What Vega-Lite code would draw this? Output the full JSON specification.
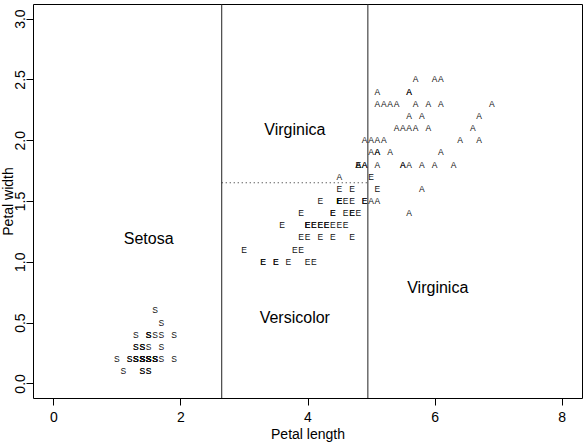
{
  "$schema": "https://vega.github.io/schema/vega-lite/v6.json",
  "width": 549,
  "height": 394,
  "autosize": {"type": "none"},
  "padding": {"left": 33, "top": 4, "right": 4, "bottom": 44},
  "background": "white",
  "config": {
    "view": {"stroke": "black", "strokeWidth": 1},
    "axis": {
      "grid": false,
      "domain": false,
      "tickColor": "black",
      "tickSize": 7,
      "tickWidth": 1,
      "labelFont": "Liberation Sans",
      "labelFontSize": 14,
      "labelColor": "black",
      "titleFont": "Liberation Sans",
      "titleFontSize": 14,
      "titleFontWeight": "normal",
      "titleColor": "black"
    }
  },
  "datasets": {
    "iris": [
      {"l":1.4,"w":0.2,"s":"S"},{"l":1.4,"w":0.2,"s":"S"},{"l":1.3,"w":0.2,"s":"S"},{"l":1.5,"w":0.2,"s":"S"},{"l":1.4,"w":0.2,"s":"S"},
      {"l":1.7,"w":0.4,"s":"S"},{"l":1.4,"w":0.3,"s":"S"},{"l":1.5,"w":0.2,"s":"S"},{"l":1.4,"w":0.2,"s":"S"},{"l":1.5,"w":0.1,"s":"S"},
      {"l":1.5,"w":0.2,"s":"S"},{"l":1.6,"w":0.2,"s":"S"},{"l":1.4,"w":0.1,"s":"S"},{"l":1.1,"w":0.1,"s":"S"},{"l":1.2,"w":0.2,"s":"S"},
      {"l":1.5,"w":0.4,"s":"S"},{"l":1.3,"w":0.4,"s":"S"},{"l":1.4,"w":0.3,"s":"S"},{"l":1.7,"w":0.3,"s":"S"},{"l":1.5,"w":0.3,"s":"S"},
      {"l":1.7,"w":0.2,"s":"S"},{"l":1.5,"w":0.4,"s":"S"},{"l":1.0,"w":0.2,"s":"S"},{"l":1.7,"w":0.5,"s":"S"},{"l":1.9,"w":0.2,"s":"S"},
      {"l":1.6,"w":0.2,"s":"S"},{"l":1.6,"w":0.4,"s":"S"},{"l":1.5,"w":0.2,"s":"S"},{"l":1.4,"w":0.2,"s":"S"},{"l":1.6,"w":0.2,"s":"S"},
      {"l":1.6,"w":0.2,"s":"S"},{"l":1.5,"w":0.4,"s":"S"},{"l":1.5,"w":0.1,"s":"S"},{"l":1.4,"w":0.2,"s":"S"},{"l":1.5,"w":0.2,"s":"S"},
      {"l":1.2,"w":0.2,"s":"S"},{"l":1.3,"w":0.2,"s":"S"},{"l":1.4,"w":0.1,"s":"S"},{"l":1.3,"w":0.2,"s":"S"},{"l":1.5,"w":0.2,"s":"S"},
      {"l":1.3,"w":0.3,"s":"S"},{"l":1.3,"w":0.3,"s":"S"},{"l":1.3,"w":0.2,"s":"S"},{"l":1.6,"w":0.6,"s":"S"},{"l":1.9,"w":0.4,"s":"S"},
      {"l":1.4,"w":0.3,"s":"S"},{"l":1.6,"w":0.2,"s":"S"},{"l":1.4,"w":0.2,"s":"S"},{"l":1.5,"w":0.2,"s":"S"},{"l":1.4,"w":0.2,"s":"S"},
      {"l":4.7,"w":1.4,"s":"E"},{"l":4.5,"w":1.5,"s":"E"},{"l":4.9,"w":1.5,"s":"E"},{"l":4.0,"w":1.3,"s":"E"},{"l":4.6,"w":1.5,"s":"E"},
      {"l":4.5,"w":1.3,"s":"E"},{"l":4.7,"w":1.6,"s":"E"},{"l":3.3,"w":1.0,"s":"E"},{"l":4.6,"w":1.3,"s":"E"},{"l":3.9,"w":1.4,"s":"E"},
      {"l":3.5,"w":1.0,"s":"E"},{"l":4.2,"w":1.5,"s":"E"},{"l":4.0,"w":1.0,"s":"E"},{"l":4.7,"w":1.4,"s":"E"},{"l":3.6,"w":1.3,"s":"E"},
      {"l":4.4,"w":1.4,"s":"E"},{"l":4.5,"w":1.5,"s":"E"},{"l":4.1,"w":1.0,"s":"E"},{"l":4.5,"w":1.5,"s":"E"},{"l":3.9,"w":1.1,"s":"E"},
      {"l":4.8,"w":1.8,"s":"E"},{"l":4.0,"w":1.3,"s":"E"},{"l":4.9,"w":1.5,"s":"E"},{"l":4.7,"w":1.2,"s":"E"},{"l":4.3,"w":1.3,"s":"E"},
      {"l":4.4,"w":1.4,"s":"E"},{"l":4.8,"w":1.4,"s":"E"},{"l":5.0,"w":1.7,"s":"E"},{"l":4.5,"w":1.5,"s":"E"},{"l":3.5,"w":1.0,"s":"E"},
      {"l":3.8,"w":1.1,"s":"E"},{"l":3.7,"w":1.0,"s":"E"},{"l":3.9,"w":1.2,"s":"E"},{"l":5.1,"w":1.6,"s":"E"},{"l":4.5,"w":1.5,"s":"E"},
      {"l":4.5,"w":1.6,"s":"E"},{"l":4.7,"w":1.5,"s":"E"},{"l":4.4,"w":1.3,"s":"E"},{"l":4.1,"w":1.3,"s":"E"},{"l":4.0,"w":1.3,"s":"E"},
      {"l":4.4,"w":1.2,"s":"E"},{"l":4.6,"w":1.4,"s":"E"},{"l":4.0,"w":1.2,"s":"E"},{"l":3.3,"w":1.0,"s":"E"},{"l":4.2,"w":1.3,"s":"E"},
      {"l":4.2,"w":1.2,"s":"E"},{"l":4.2,"w":1.3,"s":"E"},{"l":4.3,"w":1.3,"s":"E"},{"l":3.0,"w":1.1,"s":"E"},{"l":4.1,"w":1.3,"s":"E"},
      {"l":6.0,"w":2.5,"s":"A"},{"l":5.1,"w":1.9,"s":"A"},{"l":5.9,"w":2.1,"s":"A"},{"l":5.6,"w":1.8,"s":"A"},{"l":5.8,"w":2.2,"s":"A"},
      {"l":6.6,"w":2.1,"s":"A"},{"l":4.5,"w":1.7,"s":"A"},{"l":6.3,"w":1.8,"s":"A"},{"l":5.8,"w":1.8,"s":"A"},{"l":6.1,"w":2.5,"s":"A"},
      {"l":5.1,"w":2.0,"s":"A"},{"l":5.3,"w":1.9,"s":"A"},{"l":5.5,"w":2.1,"s":"A"},{"l":5.0,"w":2.0,"s":"A"},{"l":5.1,"w":2.4,"s":"A"},
      {"l":5.3,"w":2.3,"s":"A"},{"l":5.5,"w":1.8,"s":"A"},{"l":6.7,"w":2.2,"s":"A"},{"l":6.9,"w":2.3,"s":"A"},{"l":5.0,"w":1.5,"s":"A"},
      {"l":5.7,"w":2.3,"s":"A"},{"l":4.9,"w":2.0,"s":"A"},{"l":6.7,"w":2.0,"s":"A"},{"l":4.9,"w":1.8,"s":"A"},{"l":5.7,"w":2.1,"s":"A"},
      {"l":6.0,"w":1.8,"s":"A"},{"l":4.8,"w":1.8,"s":"A"},{"l":4.9,"w":1.8,"s":"A"},{"l":5.6,"w":2.1,"s":"A"},{"l":5.8,"w":1.6,"s":"A"},
      {"l":6.1,"w":1.9,"s":"A"},{"l":6.4,"w":2.0,"s":"A"},{"l":5.6,"w":2.2,"s":"A"},{"l":5.1,"w":1.5,"s":"A"},{"l":5.6,"w":1.4,"s":"A"},
      {"l":6.1,"w":2.3,"s":"A"},{"l":5.6,"w":2.4,"s":"A"},{"l":5.5,"w":1.8,"s":"A"},{"l":4.8,"w":1.8,"s":"A"},{"l":5.4,"w":2.1,"s":"A"},
      {"l":5.6,"w":2.4,"s":"A"},{"l":5.1,"w":2.3,"s":"A"},{"l":5.1,"w":1.9,"s":"A"},{"l":5.9,"w":2.3,"s":"A"},{"l":5.7,"w":2.5,"s":"A"},
      {"l":5.2,"w":2.3,"s":"A"},{"l":5.0,"w":1.9,"s":"A"},{"l":5.2,"w":2.0,"s":"A"},{"l":5.4,"w":2.3,"s":"A"},{"l":5.1,"w":1.8,"s":"A"}
    ],
    "splits": [{"x": 2.65}, {"x": 4.95}],
    "hsplit": [{"x": 2.65, "x2": 4.95, "y": 1.65}],
    "regions": [
      {"x": 1.5, "y": 1.185, "label": "Setosa"},
      {"x": 3.8, "y": 2.085, "label": "Virginica"},
      {"x": 3.8, "y": 0.535, "label": "Versicolor"},
      {"x": 6.05, "y": 0.785, "label": "Virginica"}
    ]
  },
  "layer": [
    {
      "data": {"name": "splits"},
      "mark": {"type": "rule", "color": "#222222", "strokeWidth": 1},
      "encoding": {
        "x": {
          "field": "x", "type": "quantitative",
          "scale": {"domain": [-0.32, 8.32], "nice": false, "zero": false},
          "axis": {
            "values": [0, 2, 4, 6, 8],
            "format": "d",
            "title": "Petal length",
            "labelBaseline": "alphabetic",
            "labelPadding": 16,
            "titleBaseline": "alphabetic",
            "titleX": 274.5,
            "titleY": 40,
            "titleAnchor": "middle"
          }
        }
      }
    },
    {
      "data": {"name": "hsplit"},
      "mark": {"type": "rule", "color": "#222222", "strokeWidth": 1, "strokeDash": [1, 3]},
      "encoding": {
        "x": {"field": "x", "type": "quantitative"},
        "x2": {"field": "x2"},
        "y": {
          "field": "y", "type": "quantitative",
          "scale": {"domain": [-0.12, 3.12], "nice": false, "zero": false},
          "axis": {
            "values": [0, 0.5, 1, 1.5, 2, 2.5, 3],
            "format": ".1f",
            "title": "Petal width",
            "labelAngle": -90,
            "labelAlign": "center",
            "labelBaseline": "alphabetic",
            "labelPadding": 2,
            "titleAngle": 270,
            "titleBaseline": "alphabetic",
            "titleAlign": "center",
            "titleX": -21,
            "titleY": 197
          }
        }
      }
    },
    {
      "data": {"name": "iris"},
      "mark": {"type": "text", "font": "Liberation Sans", "fontSize": 8.5, "align": "center", "baseline": "middle", "color": "#111111"},
      "encoding": {
        "x": {"field": "l", "type": "quantitative"},
        "y": {"field": "w", "type": "quantitative"},
        "text": {"field": "s"}
      }
    },
    {
      "data": {"name": "regions"},
      "mark": {"type": "text", "font": "Liberation Sans", "fontSize": 16, "align": "center", "baseline": "middle", "color": "black"},
      "encoding": {
        "x": {"field": "x", "type": "quantitative"},
        "y": {"field": "y", "type": "quantitative"},
        "text": {"field": "label"}
      }
    }
  ]
}
